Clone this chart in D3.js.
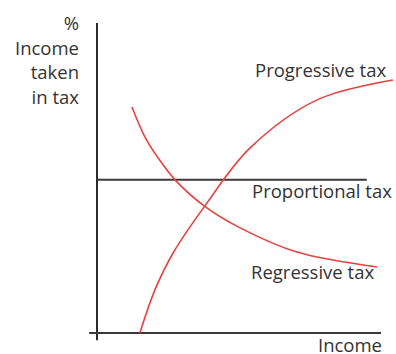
<!DOCTYPE html>
<html>
<head>
<meta charset="utf-8">
<script src="https://cdn.jsdelivr.net/npm/d3@7"></script>
<style>
  body { margin: 0; background: #fff; }
  text { font-family: "Open Sans", sans-serif; fill: #333; }
</style>
</head>
<body>
<script>
// values (income on x, % of income taken in tax on y)
var progX = [15.1, 20.4, 26.8, 38, 53.9, 77.5, 104.2];
var progY = [0, 13.9, 25.8, 41, 59.7, 75.2, 81.6];

var regX = [12.3, 16.9, 21.5, 27.5, 37.7, 50.4, 70.4, 98.6];
var regY = [72.9, 63.2, 56.5, 49.4, 41, 33.9, 26.1, 21.3];

var propX = [0, 95];
var propY = [49.4, 49.4];

var yLabel = ["%", "Income", "taken", "in tax"];

var W = 396, H = 354;

var svg = d3.select("body").append("svg")
    .attr("width", W).attr("height", H);

var x = d3.scaleLinear().domain([0, 100]).range([97, 381]);
var y = d3.scaleLinear().domain([0, 100]).range([333, 23]);

var zip = function(a, b) { return a.map(function(d, i) { return [d, b[i]]; }); };

var line = d3.line()
    .x(function(d) { return x(d[0]); })
    .y(function(d) { return y(d[1]); })
    .curve(d3.curveCatmullRom.alpha(0.5));

// axes, with the little overhang past the origin
svg.append("line")
    .attr("x1", x(0)).attr("x2", x(0))
    .attr("y1", y(-2.3)).attr("y2", y(100))
    .attr("stroke", "#2b2b2b").attr("stroke-width", 2);

svg.append("line")
    .attr("x1", x(-2.8)).attr("x2", x(100))
    .attr("y1", y(0)).attr("y2", y(0))
    .attr("stroke", "#3a3a3a").attr("stroke-width", 2);

// proportional tax
svg.append("path")
    .attr("d", d3.line().x(function(d) { return x(d[0]); }).y(function(d) { return y(d[1]); })(zip(propX, propY)))
    .attr("fill", "none").attr("stroke", "#3a3a3a").attr("stroke-width", 2);

svg.append("path")
    .attr("d", line(zip(regX, regY)))
    .attr("fill", "none").attr("stroke", "#e8413f").attr("stroke-width", 1.6);

svg.append("path")
    .attr("d", line(zip(progX, progY)))
    .attr("fill", "none").attr("stroke", "#e8413f").attr("stroke-width", 1.6);

var fs = 18.5;

svg.append("text").attr("x", 255).attr("y", 77)
    .style("font-size", fs + "px").text("Progressive tax");
svg.append("text").attr("x", 252).attr("y", 198)
    .style("font-size", fs + "px").text("Proportional tax");
svg.append("text").attr("x", 251).attr("y", 279)
    .style("font-size", fs + "px").text("Regressive tax");
svg.append("text").attr("x", 382).attr("y", 352)
    .attr("text-anchor", "end")
    .style("font-size", fs + "px").text("Income");

svg.append("g").selectAll("text")
    .data(yLabel)
    .enter().append("text")
    .attr("x", 79)
    .attr("y", function(d, i) { return 30 + i * 24.5; })
    .attr("text-anchor", "end")
    .style("font-size", fs + "px")
    .text(function(d) { return d; });
</script>
</body>
</html>
